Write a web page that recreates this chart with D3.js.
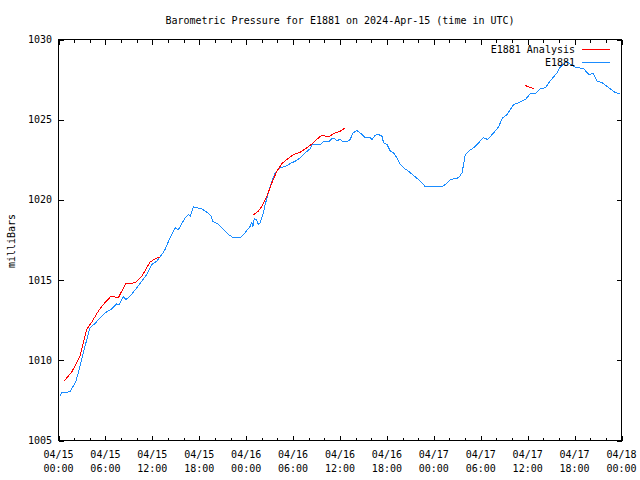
<!DOCTYPE html>
<html><head><meta charset="utf-8">
<script src="https://cdn.jsdelivr.net/npm/d3@7"></script>
<style>body{margin:0;background:#fff}svg{display:block}</style>
</head><body>
<svg id="c" width="640" height="480"></svg>
<script>
const titleText = "Barometric Pressure for E1881 on 2024-Apr-15 (time in UTC)";
const yLabelText = "milliBars";
const seriesNames = ["E1881 Analysis", "E1881"];
const seriesColors = ["#ff0000", "#1a8cff"];

const xTickHours = [0, 6, 12, 18, 24, 30, 36, 42, 48, 54, 60, 66, 72];
const xTickDates = ["04/15","04/15","04/15","04/15","04/16","04/16","04/16","04/16","04/17","04/17","04/17","04/17","04/18"];
const xTickTimes = ["00:00","06:00","12:00","18:00","00:00","06:00","12:00","18:00","00:00","06:00","12:00","18:00","00:00"];
const xMinorHours = d3.range(0, 73, 2);
const yTicks = [1005, 1010, 1015, 1020, 1025, 1030];

// observed series (hours since 2024-04-15 00:00 UTC)
const obsHours = [0.19,0.41,1.47,2.24,2.97,3.39,4.03,4.67,5.31,5.95,6.81,7.45,7.74,8.29,8.64,9.15,9.57,10.01,10.65,11.29,11.93,12.57,12.99,13.41,13.63,14.27,14.91,15.33,16.19,16.61,16.83,17.25,17.69,18.33,18.97,19.48,19.74,20.45,21.09,21.73,22.37,23.23,23.87,24.51,24.73,24.86,25.02,25.28,25.57,25.79,26.14,26.43,26.85,27.29,27.71,28.35,29.21,29.63,30.27,30.91,31.55,32.19,32.41,33.47,33.89,34.53,35.10,35.61,36.03,36.38,36.89,37.31,37.66,38.17,38.81,39.23,39.87,40.09,40.51,40.93,41.37,41.57,42.01,42.43,42.85,43.29,43.71,44.13,44.77,45.41,46.27,46.91,49.05,49.47,50.11,51.17,51.61,52.03,52.45,53.09,53.73,54.30,54.89,55.65,56.29,56.73,57.37,58.21,58.85,59.71,60.35,60.99,61.63,62.27,62.69,63.33,63.77,64.19,64.83,65.25,65.89,66.53,67.17,67.81,68.38,68.89,69.53,70.37,71.23,71.78];
const obsValues = [1007.76,1007.97,1008.04,1008.70,1010.05,1010.88,1012.03,1012.29,1012.65,1012.96,1013.21,1013.52,1013.48,1013.96,1013.79,1014.00,1014.25,1014.52,1014.93,1015.35,1015.97,1016.18,1016.45,1016.74,1016.91,1017.64,1018.26,1018.15,1018.88,1019.09,1018.98,1019.57,1019.51,1019.44,1019.23,1019.03,1018.67,1018.47,1018.15,1017.84,1017.64,1017.64,1017.95,1018.36,1018.61,1018.32,1018.82,1018.78,1018.47,1018.57,1019.09,1019.71,1020.44,1021.17,1021.69,1022.00,1022.14,1022.27,1022.41,1022.62,1022.94,1023.19,1023.45,1023.45,1023.62,1023.62,1023.87,1023.70,1023.77,1023.62,1023.62,1023.77,1024.18,1024.33,1024.08,1023.87,1023.87,1023.77,1024.03,1024.08,1023.97,1023.56,1023.45,1023.04,1022.94,1022.62,1022.21,1022.00,1021.79,1021.52,1021.17,1020.82,1020.82,1020.96,1021.27,1021.38,1021.69,1022.83,1023.04,1023.25,1023.56,1023.87,1023.77,1024.18,1024.56,1025.08,1025.32,1025.95,1026.05,1026.26,1026.63,1026.63,1026.93,1026.99,1027.30,1027.68,1027.92,1028.30,1028.55,1028.55,1028.30,1028.24,1028.17,1027.82,1027.88,1027.40,1027.30,1026.99,1026.68,1026.63];

// analysis series (null = gap)
const anaHours = [0.70,1.69,2.78,3.61,4.25,5.09,5.73,6.72,7.65,8.09,8.64,9.79,10.65,11.71,12.35,12.99,null,24.81,25.57,26.01,26.65,27.29,27.93,28.57,29.21,30.05,30.91,31.77,32.61,33.25,33.69,34.53,35.39,36.03,36.67,null,59.71,60.77];
const anaValues = [1008.70,1009.26,1010.30,1011.92,1012.38,1013.06,1013.48,1014.00,1013.90,1014.31,1014.79,1014.83,1015.24,1016.12,1016.33,1016.45,null,1019.03,1019.30,1019.61,1020.23,1021.07,1021.79,1022.27,1022.52,1022.83,1022.97,1023.25,1023.56,1023.87,1024.02,1023.93,1024.18,1024.28,1024.50,null,1027.13,1026.93];

const FONT = "'DejaVu Sans Mono', 'Liberation Mono', monospace";
const L = 58.5, R = 621.5, T = 39.5, B = 440.5;
const svg = d3.select("#c");
const x = d3.scaleLinear().domain([0, 72]).range([L, R]);
const y = d3.scaleLinear().domain([1005, 1030]).range([B, T]);

const g = svg.append("g").attr("shape-rendering", "crispEdges");

// axes (ticks inward, mirrored)
function styleAxis(sel) {
  sel.select(".domain").remove();
  sel.selectAll("line").attr("stroke", "#000");
  sel.selectAll("text").remove();
}
g.append("g").attr("transform", `translate(0,${B})`)
  .call(d3.axisBottom(x).tickValues(xMinorHours).tickSizeInner(-3).tickFormat("")).call(styleAxis);
g.append("g").attr("transform", `translate(0,${B})`)
  .call(d3.axisBottom(x).tickValues(xTickHours).tickSizeInner(-5).tickFormat("")).call(styleAxis);
g.append("g").attr("transform", `translate(0,${T})`)
  .call(d3.axisTop(x).tickValues(xMinorHours).tickSizeInner(-3).tickFormat("")).call(styleAxis);
g.append("g").attr("transform", `translate(0,${T})`)
  .call(d3.axisTop(x).tickValues(xTickHours).tickSizeInner(-5).tickFormat("")).call(styleAxis);
g.append("g").attr("transform", `translate(${L},0)`)
  .call(d3.axisLeft(y).tickValues(yTicks).tickSizeInner(-5).tickFormat("")).call(styleAxis);
g.append("g").attr("transform", `translate(${R},0)`)
  .call(d3.axisRight(y).tickValues(yTicks).tickSizeInner(-5).tickFormat("")).call(styleAxis);

// frame
g.append("rect").attr("x", L).attr("y", T).attr("width", R - L).attr("height", B - T)
  .attr("fill", "none").attr("stroke", "#000");

// labels
const txt = svg.append("g").attr("font-family", FONT).attr("font-size", 10).attr("fill", "#000");
txt.selectAll("text.yt").data(yTicks).join("text").attr("class", "yt")
  .attr("x", 52).attr("y", d => y(d)).attr("dy", "0.35em").attr("text-anchor", "end").text(d => d);
const xl = txt.selectAll("text.xt").data(xTickHours).join("text").attr("class", "xt")
  .attr("text-anchor", "middle");
xl.append("tspan").attr("x", d => x(d)).attr("y", 458).text((d, i) => xTickDates[i]);
xl.append("tspan").attr("x", d => x(d)).attr("y", 472).text((d, i) => xTickTimes[i]);
txt.append("text").attr("x", 340).attr("y", 24).attr("text-anchor", "middle").text(titleText);
txt.append("text").attr("transform", "translate(15,241) rotate(-90)").attr("text-anchor", "middle").text(yLabelText);

// lines
const line = d3.line().defined(d => d[1] != null).x(d => x(d[0])).y(d => y(d[1]));
const obs = obsHours.map((h, i) => [h, obsValues[i]]);
const ana = anaHours.map((h, i) => [h, anaValues[i]]);
const lines = svg.append("g").attr("shape-rendering", "crispEdges");
lines.append("path").attr("d", line(obs)).attr("fill", "none").attr("stroke", seriesColors[1]).attr("stroke-width", 1);
lines.append("path").attr("d", line(ana)).attr("fill", "none").attr("stroke", seriesColors[0]).attr("stroke-width", 1);

// legend
const leg = svg.append("g");
seriesNames.forEach((name, i) => {
  const ly = 49.5 + i * 13;
  leg.append("text").attr("x", 575).attr("y", ly).attr("dy", "0.35em").attr("text-anchor", "end")
    .attr("font-family", FONT).attr("font-size", 10).text(name);
  leg.append("line").attr("x1", 582).attr("x2", 610).attr("y1", ly).attr("y2", ly)
    .attr("stroke", seriesColors[i]).attr("shape-rendering", "crispEdges");
});
</script>
</body></html>
